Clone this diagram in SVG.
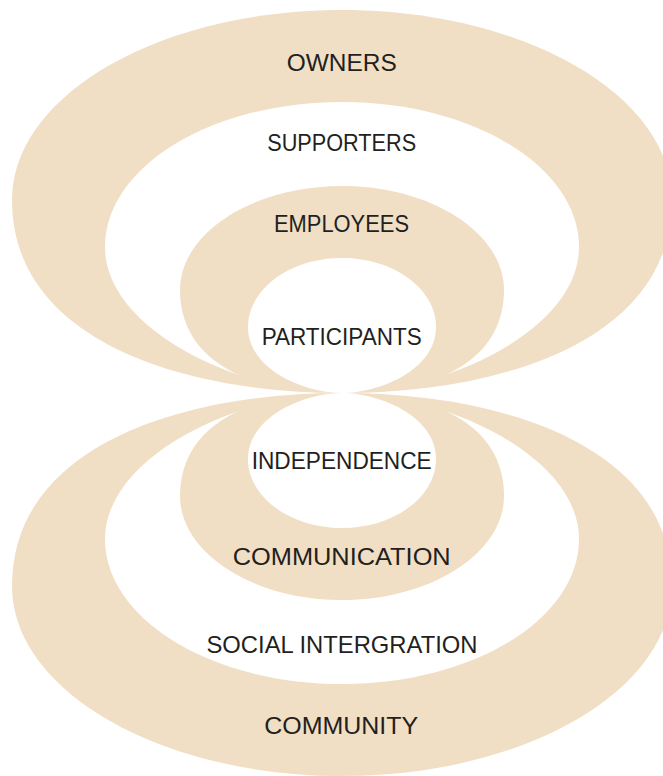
<svg xmlns="http://www.w3.org/2000/svg" width="663" height="776" viewBox="0 0 663 776">
  <style>
    .tan { fill: #F1DFC5; }
    .wht { fill: #FFFFFF; }
    .lbl { font-family: "Liberation Sans", Arial, sans-serif; font-size: 24px; fill: #231F20; text-anchor: middle; }
  </style>
  <rect x="0" y="0" width="663" height="776" fill="#FFFFFF"/>
  <g id="owners">
    <path class="tan" d="M342,393 C185,393 12,342 12,200 C12,95 160,10 342,10 C524,10 672,95 672,200 C672,342 499,393 342,393 Z"/>
    <text class="lbl" x="341.7" y="70.7" textLength="110" lengthAdjust="spacingAndGlyphs">OWNERS</text>
  </g>
  <g id="community">
    <path class="tan" d="M342,393 C185,393 12,444 12,586 C12,691 160,776 342,776 C524,776 672,691 672,586 C672,444 499,393 342,393 Z"/>
    <text class="lbl" x="341.2" y="734" textLength="154" lengthAdjust="spacingAndGlyphs">COMMUNITY</text>
  </g>
  <g id="supporters">
    <path class="wht" d="M342,393 C240,393 105,330 105,247 C105,167 211,102 342,102 C473,102 579,167 579,247 C579,330 444,393 342,393 Z"/>
    <text class="lbl" x="341.7" y="150.7" textLength="149" lengthAdjust="spacingAndGlyphs">SUPPORTERS</text>
  </g>
  <g id="social-integration">
    <path class="wht" d="M342,393 C240,393 105,456 105,539 C105,619 211,684 342,684 C473,684 579,619 579,539 C579,456 444,393 342,393 Z"/>
    <text class="lbl" x="342" y="653.3" textLength="271" lengthAdjust="spacingAndGlyphs">SOCIAL INTERGRATION</text>
  </g>
  <g id="employees">
    <path class="tan" d="M342,393 C230,393 180,350 180,290 C180,233 253,186 342,186 C431,186 504,233 504,290 C504,350 454,393 342,393 Z"/>
    <text class="lbl" x="341.5" y="232.3" textLength="135" lengthAdjust="spacingAndGlyphs">EMPLOYEES</text>
  </g>
  <g id="communication">
    <path class="tan" d="M342,393 C230,393 180,436 180,496 C180,553 253,600 342,600 C431,600 504,553 504,496 C504,436 454,393 342,393 Z"/>
    <text class="lbl" x="341.7" y="565" textLength="218" lengthAdjust="spacingAndGlyphs">COMMUNICATION</text>
  </g>
  <g id="participants">
    <path class="wht" d="M342,393 C305,393 248,370 248,327 C248,289 290,258 342,258 C394,258 436,289 436,327 C436,370 379,393 342,393 Z"/>
    <text class="lbl" x="341.7" y="345" textLength="160" lengthAdjust="spacingAndGlyphs">PARTICIPANTS</text>
  </g>
  <g id="independence">
    <path class="wht" d="M342,393 C305,393 248,416 248,459 C248,497 290,528 342,528 C394,528 436,497 436,459 C436,416 379,393 342,393 Z"/>
    <text class="lbl" x="341.7" y="469.3" textLength="180" lengthAdjust="spacingAndGlyphs">INDEPENDENCE</text>
  </g>
</svg>
